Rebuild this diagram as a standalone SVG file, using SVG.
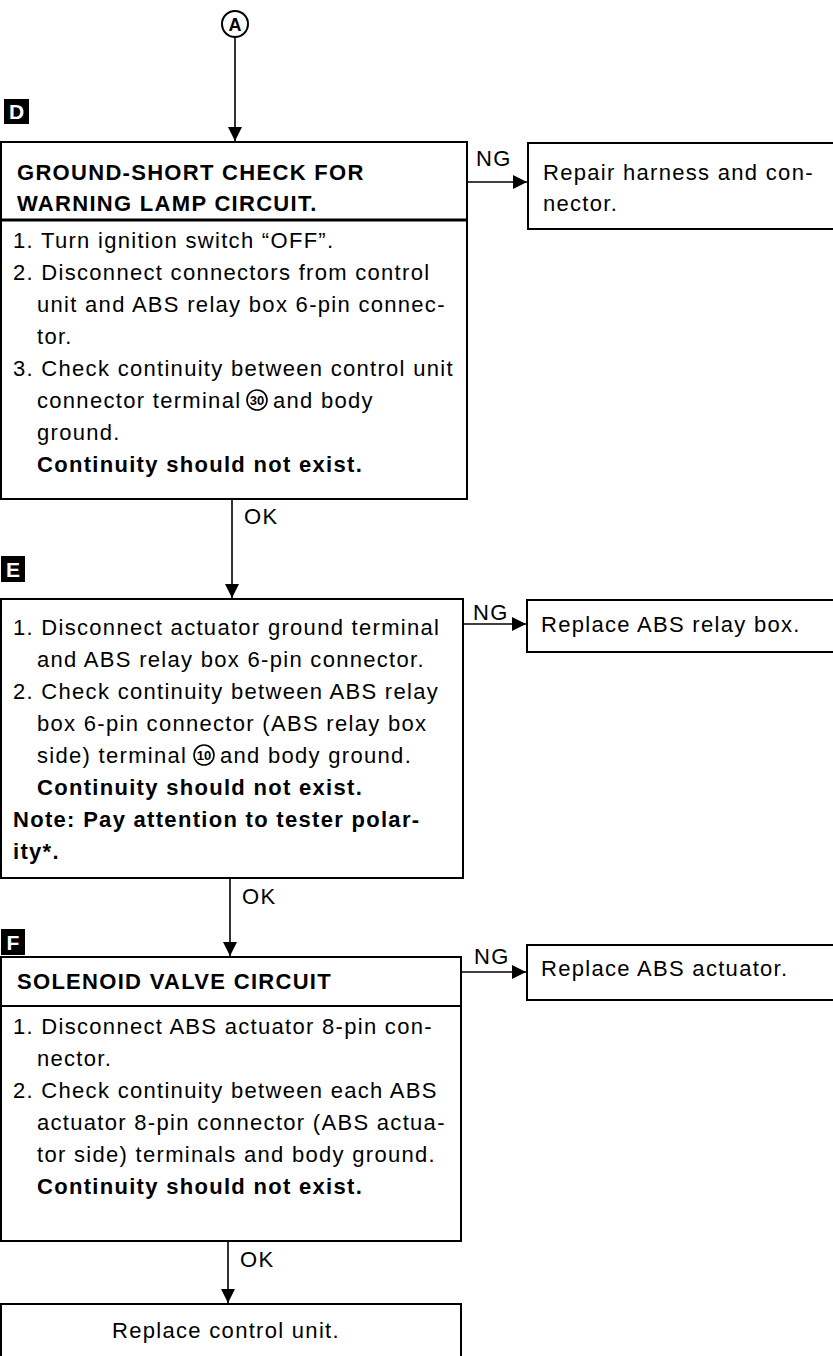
<svg xmlns="http://www.w3.org/2000/svg" width="833" height="1356" viewBox="0 0 833 1356">
  <defs>
    <marker id="arrow" viewBox="0 0 10 10" refX="10" refY="5" markerWidth="14" markerHeight="14" markerUnits="userSpaceOnUse" orient="auto">
      <path d="M0,0 L10,5 L0,10 Z" fill="#000"/>
    </marker>
    <style>
      .box { fill: #fff; stroke: #000; stroke-width: 2; }
      .conn { fill: none; stroke: #000; stroke-width: 1.6; marker-end: url(#arrow); }
      .t { font-family: "Liberation Sans", Arial, sans-serif; font-size: 22px; letter-spacing: 1.3px; fill: #000; }
      .b { font-weight: bold; }
      .tag { fill: #000; }
      .tagt { font-family: "Liberation Sans", Arial, sans-serif; font-size: 21px; font-weight: bold; fill: #fff; text-anchor: middle; }
      .cnum { fill: none; stroke: #000; stroke-width: 1.6; }
      .cnt { font-family: "Liberation Sans", Arial, sans-serif; font-size: 13px; font-weight: bold; fill: #000; text-anchor: middle; }
    </style>
  </defs>

  <!-- entry point A -->
  <g id="start-A">
    <circle cx="235" cy="24" r="13" fill="#fff" stroke="#000" stroke-width="2"/>
    <text x="235" y="31" class="cnt" style="font-size:18px">A</text>
  </g>

  <!-- step labels -->
  <g id="label-D"><rect class="tag" x="4" y="99" width="25" height="25"/><text class="tagt" x="16.5" y="119">D</text></g>
  <g id="label-E"><rect class="tag" x="1" y="556" width="24" height="26"/><text class="tagt" x="13" y="577">E</text></g>
  <g id="label-F"><rect class="tag" x="1" y="929" width="24" height="26"/><text class="tagt" x="13" y="950">F</text></g>

  <!-- step D -->
  <g id="step-D">
    <rect class="box" x="1" y="142" width="466" height="78"/>
    <rect class="box" x="1" y="220" width="466" height="279"/>
    <line x1="1" y1="220" x2="467" y2="220" stroke="#000" stroke-width="3"/>
    <text class="t b" x="17" y="180">GROUND-SHORT CHECK FOR</text>
    <text class="t b" x="17" y="211">WARNING LAMP CIRCUIT.</text>
    <text class="t" x="13" y="248">1. Turn ignition switch “OFF”.</text>
    <text class="t" x="13" y="280">2. Disconnect connectors from control</text>
    <text class="t" x="37" y="312">unit and ABS relay box 6-pin connec-</text>
    <text class="t" x="37" y="344">tor.</text>
    <text class="t" x="13" y="376">3. Check continuity between control unit</text>
    <text class="t" x="37" y="408">connector terminal</text>
    <circle class="cnum" cx="257" cy="400" r="10"/>
    <text class="cnt" x="257" y="405">30</text>
    <text class="t" x="273" y="408">and body</text>
    <text class="t" x="37" y="440">ground.</text>
    <text class="t b" x="37" y="472">Continuity should not exist.</text>
  </g>
  <g id="result-D">
    <rect class="box" x="528" y="143" width="312" height="86"/>
    <text class="t" x="543" y="180">Repair harness and con-</text>
    <text class="t" x="543" y="211">nector.</text>
  </g>

  <!-- step E -->
  <g id="step-E">
    <rect class="box" x="1" y="599" width="462" height="279"/>
    <text class="t" x="13" y="635">1. Disconnect actuator ground terminal</text>
    <text class="t" x="37" y="667">and ABS relay box 6-pin connector.</text>
    <text class="t" x="13" y="699">2. Check continuity between ABS relay</text>
    <text class="t" x="37" y="731">box 6-pin connector (ABS relay box</text>
    <text class="t" x="37" y="763">side) terminal</text>
    <circle class="cnum" cx="204" cy="755" r="10"/>
    <text class="cnt" x="204" y="760">10</text>
    <text class="t" x="220" y="763">and body ground.</text>
    <text class="t b" x="37" y="795">Continuity should not exist.</text>
    <text class="t b" x="13" y="827">Note: Pay attention to tester polar-</text>
    <text class="t b" x="13" y="859">ity*.</text>
  </g>
  <g id="result-E">
    <rect class="box" x="527" y="600" width="313" height="52"/>
    <text class="t" x="541" y="632">Replace ABS relay box.</text>
  </g>

  <!-- step F -->
  <g id="step-F">
    <rect class="box" x="1" y="957" width="460" height="49"/>
    <rect class="box" x="1" y="1006" width="460" height="235"/>
    <text class="t b" x="17" y="989">SOLENOID VALVE CIRCUIT</text>
    <text class="t" x="13" y="1034">1. Disconnect ABS actuator 8-pin con-</text>
    <text class="t" x="37" y="1066">nector.</text>
    <text class="t" x="13" y="1098">2. Check continuity between each ABS</text>
    <text class="t" x="37" y="1130">actuator 8-pin connector (ABS actua-</text>
    <text class="t" x="37" y="1162">tor side) terminals and body ground.</text>
    <text class="t b" x="37" y="1194">Continuity should not exist.</text>
  </g>
  <g id="result-F">
    <rect class="box" x="527" y="945" width="313" height="55"/>
    <text class="t" x="541" y="976">Replace ABS actuator.</text>
  </g>

  <!-- final step -->
  <g id="final">
    <rect class="box" x="1" y="1304" width="460" height="70"/>
    <text class="t" x="226" y="1338" text-anchor="middle">Replace control unit.</text>
  </g>

  <!-- connectors -->
  <g id="connectors">
    <line class="conn" x1="235" y1="37" x2="235" y2="141"/>
    <line class="conn" x1="467" y1="182" x2="527" y2="182"/>
    <line class="conn" x1="232" y1="499" x2="232" y2="598"/>
    <line class="conn" x1="463" y1="624" x2="526" y2="624"/>
    <line class="conn" x1="230" y1="878" x2="230" y2="956"/>
    <line class="conn" x1="461" y1="972" x2="526" y2="972"/>
    <line class="conn" x1="228" y1="1241" x2="228" y2="1303"/>
    <text class="t" x="476" y="166">NG</text>
    <text class="t" x="473" y="620">NG</text>
    <text class="t" x="474" y="964">NG</text>
    <text class="t" x="244" y="524">OK</text>
    <text class="t" x="242" y="904">OK</text>
    <text class="t" x="240" y="1267">OK</text>
  </g>
</svg>
